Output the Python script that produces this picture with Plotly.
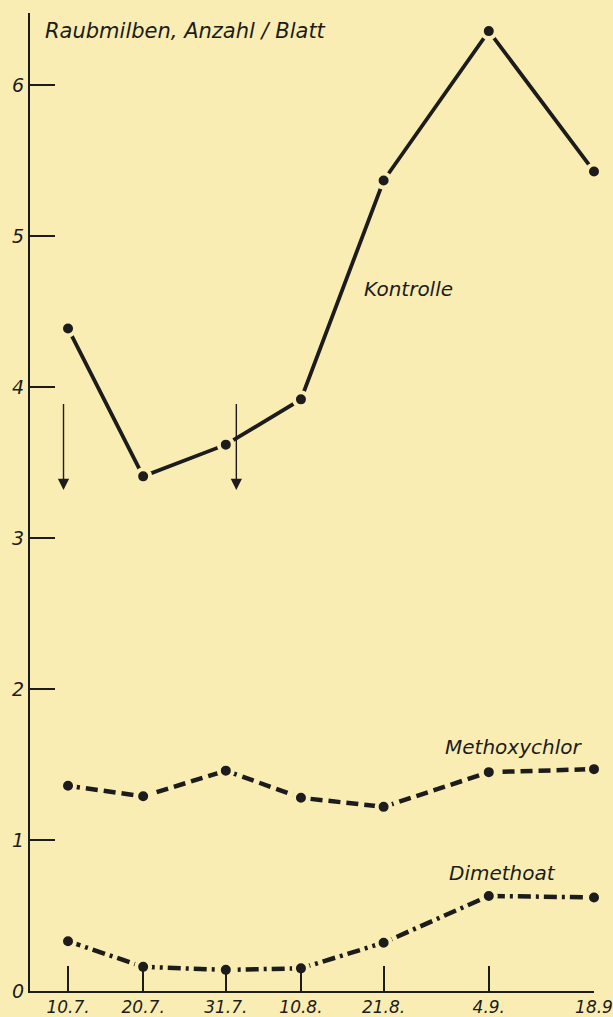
import plotly.graph_objects as go

# Days after 10.7.
dates = ["10.7.", "20.7.", "31.7.", "10.8.", "21.8.", "4.9.", "18.9"]
days = [0, 10, 21, 31, 42, 56, 70]

kontrolle = [4.39, 3.41, 3.62, 3.92, 5.37, 6.36, 5.43]
methoxychlor = [1.36, 1.29, 1.46, 1.28, 1.22, 1.45, 1.47]
dimethoat = [0.33, 0.16, 0.14, 0.15, 0.32, 0.63, 0.62]

treatment_days = [-0.6, 22.4]
arrow_top = 3.90
arrow_bottom = 3.32

BG = "#F9EDB3"
INK = "#1c1c1c"
FONT = "DejaVu Sans"

fig = go.Figure()

def add_series(y, dash, width):
    fig.add_trace(go.Scatter(
        x=days, y=y, mode="lines+markers",
        line=dict(color=INK, width=width, dash=dash),
        marker=dict(size=14, color=INK, line=dict(color=BG, width=4)),
        showlegend=False, cliponaxis=False,
    ))

add_series(kontrolle, "solid", 3.8)
add_series(methoxychlor, "12px,6px", 4.5)
add_series(dimethoat, "13px,5px,3px,5px", 4.5)

for d in treatment_days:
    fig.add_annotation(
        x=d, y=arrow_bottom, ax=d, ay=arrow_top,
        xref="x", yref="y", axref="x", ayref="y",
        showarrow=True, arrowhead=2, arrowsize=1.6, arrowwidth=1.4,
        arrowcolor=INK, text="",
    )

def label(text, x, y, size):
    fig.add_annotation(
        x=x, y=y, xref="x", yref="y", text=text, showarrow=False,
        xanchor="left", yanchor="middle",
        font=dict(family=FONT, size=size, color=INK, style="italic"),
    )

label("Raubmilben, Anzahl / Blatt", -3.33, 6.36, 21)
label("Kontrolle", 39.1, 4.65, 20)
label("Methoxychlor", 49.9, 1.62, 20)
label("Dimethoat", 50.4, 0.78, 20)

fig.update_xaxes(
    range=[-5.06, 70], tickvals=days, ticktext=dates,
    ticks="inside", ticklen=25, tickwidth=1.5, tickcolor=INK,
    showline=True, linecolor=INK, linewidth=2,
    showgrid=False, zeroline=False, automargin=False,
    tickfont=dict(family=FONT, size=17, color=INK, style="italic"),
)
fig.update_yaxes(
    range=[0, 6.48], tickvals=[0, 1, 2, 3, 4, 5, 6],
    ticks="inside", ticklen=25, tickwidth=1.5, tickcolor=INK,
    showline=True, linecolor=INK, linewidth=2,
    showgrid=False, zeroline=False, automargin=False,
    tickfont=dict(family=FONT, size=19, color=INK, style="italic"),
)

fig.update_layout(
    width=613, height=1017,
    margin=dict(l=30, r=19, t=13, b=26, autoexpand=False),
    paper_bgcolor=BG, plot_bgcolor=BG,
)

fig.write_html(
    "out.html",
    config={"displayModeBar": False},
    post_script="document.body.style.margin='0';document.body.style.overflow='hidden';",
)
